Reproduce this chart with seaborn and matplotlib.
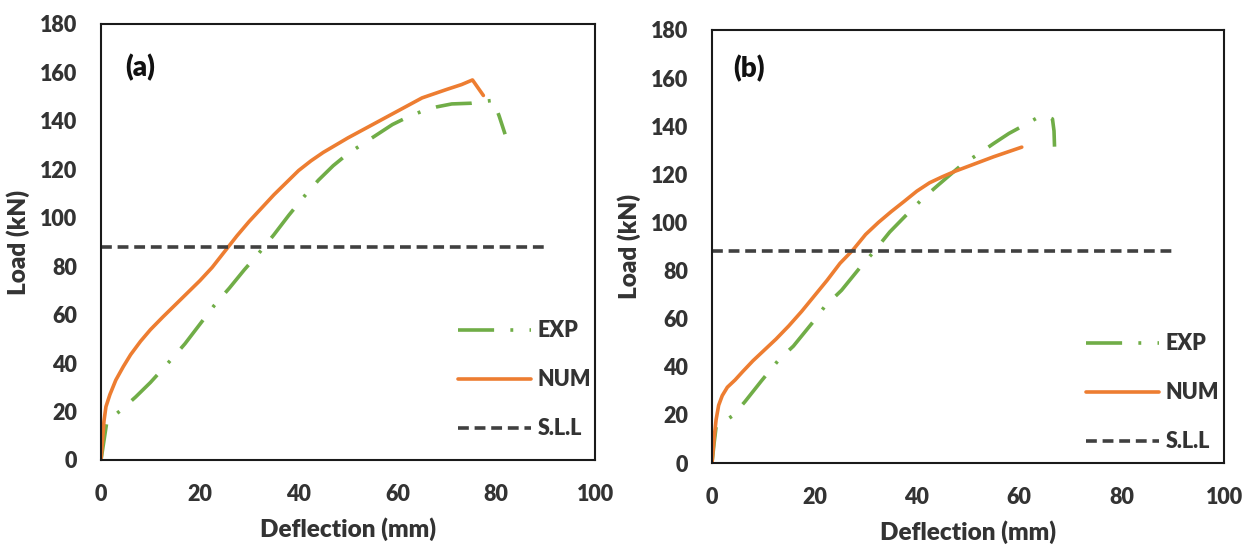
import matplotlib
matplotlib.use("Agg")
import matplotlib.pyplot as plt
import seaborn as sns
import pandas as pd

# Load-deflection data, panel (a)
defl_num_a = [0, 0.3, 0.6, 1.0, 1.8, 3.0, 4.5, 6.0, 8.0, 10.0, 12.5, 15.0, 17.5, 20.0, 22.5, 25.0,
              27.5, 30.0, 32.5, 35.0, 37.5, 40.0, 42.5, 45.0, 47.5, 50.0, 55.0, 60.0, 65.0, 70.0,
              73.0, 75.2, 77.4]
load_num_a = [0, 8.0, 16.0, 22.0, 27.0, 33.0, 38.5, 43.5, 49.0, 53.8, 59.0, 64.0, 69.0, 74.0, 79.5, 86.0,
              92.5, 98.5, 104.0, 109.5, 114.5, 119.5, 123.5, 127.0, 130.0, 133.0, 138.5, 144.0, 149.5, 153.0,
              155.0, 156.9, 150.5]
defl_exp_a = [0, 0.6, 1.2, 4.0, 7.0, 10.0, 14.0, 17.0, 20.0, 23.0, 26.0, 29.0, 32.0, 35.0, 38.0, 41.0,
              44.0, 47.0, 50.0, 53.0, 56.0, 59.0, 62.0, 65.0, 68.0, 71.0, 75.0, 79.4, 80.6, 81.8]
load_exp_a = [0, 8.0, 16.0, 20.5, 26.0, 32.0, 41.0, 48.0, 56.0, 64.0, 71.0, 78.5, 85.5, 93.0, 101.0, 108.5,
              115.5, 121.5, 126.5, 130.5, 134.5, 138.5, 141.5, 144.0, 145.8, 147.0, 147.3, 148.5, 142.0, 134.5]

# Load-deflection data, panel (b)
defl_num_b = [0, 0.4, 0.8, 1.3, 2.0, 3.0, 4.5, 6.0, 8.0, 10.0, 12.5, 15.0, 17.5, 20.0, 22.5, 25.0,
              27.5, 30.0, 32.5, 35.0, 37.5, 40.0, 42.5, 45.0, 47.5, 50.0, 55.0, 60.5]
load_num_b = [0, 10.0, 18.0, 24.0, 28.0, 31.5, 34.5, 38.0, 42.5, 46.5, 51.5, 57.0, 63.0, 69.5, 76.0, 83.0,
              88.5, 95.0, 100.0, 104.5, 108.7, 113.0, 116.5, 119.0, 121.3, 123.3, 127.3, 131.3]
defl_exp_b = [0, 0.4, 0.8, 4.0, 6.4, 9.6, 13.0, 15.9, 19.8, 22.0, 25.3, 29.2, 31.6, 34.7, 38.6, 41.0,
              44.1, 48.8, 52.0, 55.0, 58.0, 60.6, 63.7, 65.5, 66.5, 66.8, 66.9]
load_exp_b = [0, 8.0, 15.0, 19.6, 25.4, 34.0, 42.8, 48.6, 58.8, 65.0, 71.8, 82.0, 87.8, 96.0, 104.5, 109.6,
              115.4, 124.0, 128.4, 132.8, 137.0, 140.0, 143.7, 144.0, 143.0, 138.0, 131.5]

# Service load limit
sll_load = 88
sll_defl = [0, 90]

x_ticks = [0, 20, 40, 60, 80, 100]
y_ticks = [0, 20, 40, 60, 80, 100, 120, 140, 160, 180]
panel_tags = ["(a)", "(b)"]

sns.set_theme(style="white")
plt.rcParams["font.family"] = ["Lato", "DejaVu Sans"]
plt.rcParams["font.weight"] = "bold"

GREEN = "#70AD47"
ORANGE = "#ED7D31"
GREY = "#404040"
TEXT = "#333333"
FS = 15.5
WEIGHT = "heavy"

fig = plt.figure(figsize=(12.51, 5.49), dpi=100)
ax_a = fig.add_axes([101 / 1251, 1 - 460 / 549, 494 / 1251, 436 / 549])
ax_b = fig.add_axes([712 / 1251, 1 - 463 / 549, 512 / 1251, 433 / 549])


def draw(ax, dx_exp, ly_exp, dx_num, ly_num, tag, tag_xy, leg_anchor):
    exp = pd.DataFrame({"d": dx_exp, "L": ly_exp})
    num = pd.DataFrame({"d": dx_num, "L": ly_num})
    sll = pd.DataFrame({"d": sll_defl, "L": [sll_load] * len(sll_defl)})
    sns.lineplot(data=exp, x="d", y="L", ax=ax, sort=False, estimator=None,
                 color=GREEN, lw=2.6, label="EXP")
    ax.lines[-1].set_dashes((10, 4.5, 0.8, 4.5))
    sns.lineplot(data=num, x="d", y="L", ax=ax, sort=False, estimator=None,
                 color=ORANGE, lw=2.6, label="NUM")
    sns.lineplot(data=sll, x="d", y="L", ax=ax, sort=False, estimator=None,
                 color=GREY, lw=2.6, label="S.L.L")
    ax.lines[-1].set_dashes((3, 1.6))

    ax.set_xlim(0, 100)
    ax.set_ylim(0, 180)
    ax.set_xticks(x_ticks)
    ax.set_yticks(y_ticks)
    ax.tick_params(axis="both", length=0, labelsize=FS, labelcolor=TEXT)
    ax.tick_params(axis="x", pad=17)
    ax.tick_params(axis="y", pad=17)
    for lab in ax.get_xticklabels() + ax.get_yticklabels():
        lab.set_fontweight(WEIGHT)
    for s in ax.spines.values():
        s.set_color("#1a1a1a")
        s.set_linewidth(1.5)
    ax.set_xlabel("Deflection (mm)", fontsize=17.5, fontweight=WEIGHT, color=TEXT, labelpad=9)
    ax.set_ylabel("Load (kN)", fontsize=17.5, fontweight=WEIGHT, color=TEXT, labelpad=7)
    ax.text(tag_xy[0], tag_xy[1], tag, fontsize=20, fontweight=WEIGHT,
            color="#111111", ha="left", va="center")
    leg = ax.legend(loc="upper left", bbox_to_anchor=leg_anchor, frameon=False,
                    prop={"size": FS, "weight": WEIGHT}, handlelength=3.4, handletextpad=0.3,
                    labelspacing=1.3, borderpad=0, borderaxespad=0)
    for t in leg.get_texts():
        t.set_color(TEXT)


draw(ax_a, defl_exp_a, load_exp_a, defl_num_a, load_num_a, panel_tags[0], (5.0, 162), (0.722, 0.32))
draw(ax_b, defl_exp_b, load_exp_b, defl_num_b, load_num_b, panel_tags[1], (4.2, 164), (0.73, 0.30))

fig.savefig("out.png", dpi=100)
